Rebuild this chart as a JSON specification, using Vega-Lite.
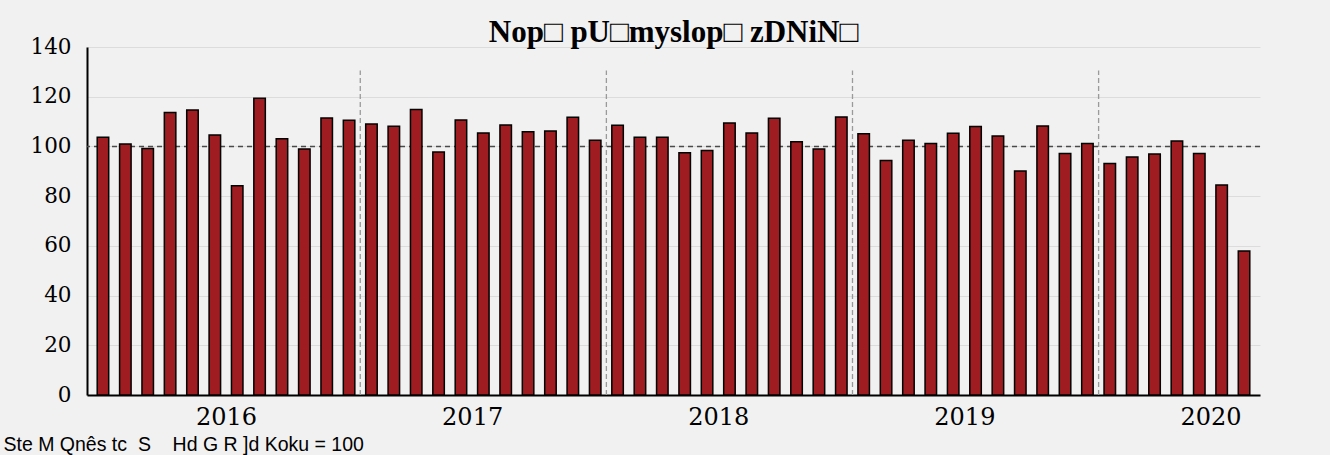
{
  "$schema": "https://vega.github.io/schema/vega-lite/v6.json",
  "width": 1173,
  "height": 348,
  "autosize": "none",
  "padding": {"left": 87, "top": 47, "right": 70, "bottom": 60},
  "background": "#f1f1f1",
  "config": {"view": {"stroke": null}},
  "title": {
    "text": "Nop□ pU□myslop□ zDNiN□",
    "font": "Liberation Serif",
    "fontSize": 31,
    "fontWeight": "bold",
    "color": "#000000",
    "anchor": "middle",
    "offset": -13
  },
  "datasets": {
    "orders": [
      {"month": "2016-01", "idx": 0, "value": 103.7},
      {"month": "2016-02", "idx": 1, "value": 101.0},
      {"month": "2016-03", "idx": 2, "value": 99.2},
      {"month": "2016-04", "idx": 3, "value": 113.6},
      {"month": "2016-05", "idx": 4, "value": 114.7},
      {"month": "2016-06", "idx": 5, "value": 104.6},
      {"month": "2016-07", "idx": 6, "value": 84.2},
      {"month": "2016-08", "idx": 7, "value": 119.4},
      {"month": "2016-09", "idx": 8, "value": 103.1},
      {"month": "2016-10", "idx": 9, "value": 99.0},
      {"month": "2016-11", "idx": 10, "value": 111.4},
      {"month": "2016-12", "idx": 11, "value": 110.5},
      {"month": "2017-01", "idx": 12, "value": 109.0},
      {"month": "2017-02", "idx": 13, "value": 108.1},
      {"month": "2017-03", "idx": 14, "value": 114.9},
      {"month": "2017-04", "idx": 15, "value": 97.8},
      {"month": "2017-05", "idx": 16, "value": 110.6},
      {"month": "2017-06", "idx": 17, "value": 105.4},
      {"month": "2017-07", "idx": 18, "value": 108.6},
      {"month": "2017-08", "idx": 19, "value": 105.9},
      {"month": "2017-09", "idx": 20, "value": 106.2},
      {"month": "2017-10", "idx": 21, "value": 111.7},
      {"month": "2017-11", "idx": 22, "value": 102.5},
      {"month": "2017-12", "idx": 23, "value": 108.5},
      {"month": "2018-01", "idx": 24, "value": 103.7},
      {"month": "2018-02", "idx": 25, "value": 103.7},
      {"month": "2018-03", "idx": 26, "value": 97.5},
      {"month": "2018-04", "idx": 27, "value": 98.4},
      {"month": "2018-05", "idx": 28, "value": 109.4},
      {"month": "2018-06", "idx": 29, "value": 105.4},
      {"month": "2018-07", "idx": 30, "value": 111.3},
      {"month": "2018-08", "idx": 31, "value": 101.9},
      {"month": "2018-09", "idx": 32, "value": 99.0},
      {"month": "2018-10", "idx": 33, "value": 111.8},
      {"month": "2018-11", "idx": 34, "value": 105.1},
      {"month": "2018-12", "idx": 35, "value": 94.3},
      {"month": "2019-01", "idx": 36, "value": 102.5},
      {"month": "2019-02", "idx": 37, "value": 101.2},
      {"month": "2019-03", "idx": 38, "value": 105.3},
      {"month": "2019-04", "idx": 39, "value": 108.0},
      {"month": "2019-05", "idx": 40, "value": 104.2},
      {"month": "2019-06", "idx": 41, "value": 90.1},
      {"month": "2019-07", "idx": 42, "value": 108.2},
      {"month": "2019-08", "idx": 43, "value": 97.2},
      {"month": "2019-09", "idx": 44, "value": 101.2},
      {"month": "2019-10", "idx": 45, "value": 93.1},
      {"month": "2019-11", "idx": 46, "value": 95.7},
      {"month": "2019-12", "idx": 47, "value": 97.0},
      {"month": "2020-01", "idx": 48, "value": 102.2},
      {"month": "2020-02", "idx": 49, "value": 97.2},
      {"month": "2020-03", "idx": 50, "value": 84.5},
      {"month": "2020-04", "idx": 51, "value": 57.9}
    ],
    "dividers": [
      {"idx": 11.5, "value": 0, "top": 130.5},
      {"idx": 22.5, "value": 0, "top": 130.5},
      {"idx": 33.5, "value": 0, "top": 130.5},
      {"idx": 44.5, "value": 0, "top": 130.5}
    ],
    "reference": [{"value": 100}]
  },
  "layer": [
    {
      "data": {"name": "dividers"},
      "mark": {"type": "rule", "color": "#9a9a9a", "strokeWidth": 1.3, "strokeDash": [5, 3]},
      "encoding": {
        "x": {"field": "idx", "type": "quantitative"},
        "y": {"field": "value", "type": "quantitative"},
        "y2": {"field": "top"}
      }
    },
    {
      "data": {"name": "reference"},
      "mark": {"type": "rule", "color": "#4a4a4a", "strokeWidth": 1.5, "strokeDash": [5, 4]},
      "encoding": {
        "y": {"field": "value", "type": "quantitative"}
      }
    },
    {
      "data": {"name": "orders"},
      "mark": {"type": "bar", "width": 11.5, "color": "#9f1d20", "stroke": "#000000", "strokeWidth": 1.5},
      "encoding": {
        "x": {
          "field": "idx",
          "type": "quantitative",
          "scale": {"domain": [-0.49, 51.49], "nice": false, "zero": false},
          "axis": {
            "title": "Ste M Qnês tc \u00a0S \u00a0 \u00a0Hd G R ]d Koku = 100",
            "titleFont": "Liberation Sans",
            "titleFontSize": 19.5,
            "titleFontWeight": "normal",
            "titleColor": "#000000",
            "titleAnchor": "start",
            "titleAlign": "left",
            "titleBaseline": "alphabetic",
            "titleX": -84,
            "titleY": 55,
            "values": [5.5, 16.5, 27.5, 38.5, 49.5],
            "labelExpr": "datum.value == 5.5 ? '2016' : datum.value == 16.5 ? '2017' : datum.value == 27.5 ? '2018' : datum.value == 38.5 ? '2019' : '2020'",
            "labelFont": "DejaVu Serif",
            "labelFontSize": 24,
            "labelColor": "#000000",
            "labelPadding": 10,
            "labelFlush": false,
            "labelOverlap": false,
            "ticks": false,
            "grid": false,
            "domainColor": "#000000",
            "domainWidth": 2
          }
        },
        "y": {
          "field": "value",
          "type": "quantitative",
          "scale": {"domain": [0, 140], "nice": false},
          "axis": {
            "title": null,
            "values": [0, 20, 40, 60, 80, 100, 120, 140],
            "labelFont": "DejaVu Serif",
            "labelFontSize": 21.5,
            "labelColor": "#000000",
            "labelPadding": 16,
            "ticks": false,
            "grid": true,
            "gridColor": "#dcdcdc",
            "gridWidth": 1,
            "domainColor": "#000000",
            "domainWidth": 2
          }
        }
      }
    }
  ]
}
